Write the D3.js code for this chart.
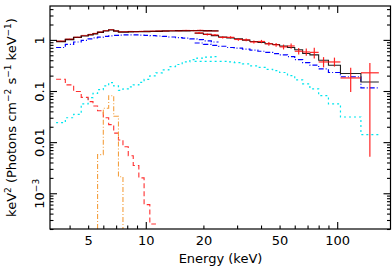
<!DOCTYPE html>
<html>
<head>
<meta charset="utf-8">
<script src="https://cdn.jsdelivr.net/npm/d3@7"></script>
<style>
  body { margin: 0; background: #fff; }
  svg { display: block; font-family: "DejaVu Sans", sans-serif; }
</style>
</head>
<body>
<div id="plot"></div>
<script>
	// spectrum: two data groups, total model + components (keV^2 units)

	const w = 392;
	const h = 267;
	const margin = {top: 6, right: 1, bottom: 38, left: 50};

	// low energy group (3.4 - 24 keV)
	const aEdges = [3.4, 3.8, 4.2, 4.6, 5.0, 5.3, 5.6, 6.0, 6.4, 6.8, 7.2, 7.6, 8.1, 8.6, 9.2, 9.8, 10.5, 11.3, 12.2, 13.2, 14.3, 15.5, 17, 18.5, 20, 22, 24];
	const aModel = [0.93, 1.02, 1.12, 1.20, 1.26, 1.32, 1.41, 1.50, 1.57, 1.49, 1.43, 1.43, 1.44, 1.45, 1.45, 1.46, 1.47, 1.48, 1.49, 1.50, 1.51, 1.51, 1.52, 1.52, 1.51, 1.50];
	const aCont = [0.71, 0.82, 0.91, 0.98, 1.05, 1.09, 1.13, 1.17, 1.20, 1.22, 1.24, 1.25, 1.25, 1.25, 1.24, 1.22, 1.21, 1.19, 1.17, 1.14, 1.11, 1.08, 1.05, 1.01, 0.96, 0.91];
	const aRefl = [0.024, 0.030, 0.035, 0.056, 0.074, 0.090, 0.106, 0.126, 0.146, 0.126, 0.103, 0.110, 0.12, 0.132, 0.148, 0.169, 0.198, 0.227, 0.26, 0.30, 0.33, 0.37, 0.41, 0.44, 0.46, 0.47];
	const aSoft = [0.17, 0.132, 0.098, 0.075, 0.062, 0.051, 0.041, 0.030, 0.022, 0.015, 0.011, 0.0081, 0.0054, 0.0035, 0.0020, 0.00060, 0.00025];
	const aData = [0.95, 1.04, 1.13, 1.22, 1.28, 1.34, 1.43, 1.52, 1.59, 1.50, 1.44, 1.45, 1.46, 1.44, 1.47, 1.47, 1.49, 1.50, 1.49, 1.52, 1.50, 1.53, 1.52, 1.54, 1.50, 1.49];
	const aErr = [0.03, 0.03, 0.03, 0.03, 0.03, 0.03, 0.03, 0.03, 0.03, 0.03, 0.03, 0.03, 0.03, 0.03, 0.03, 0.03, 0.04, 0.04, 0.04, 0.04, 0.05, 0.05, 0.05, 0.06, 0.06, 0.07];

	// iron line (gaussian)
	const feEdges = [5.6, 6.0, 6.4, 6.8, 7.2, 7.6];
	const feVals = [0.0057, 0.046, 0.081, 0.032, 0.0021];

	// high energy group (18 - 165 keV)
	const bEdges = [18, 20, 22, 24, 26.5, 29, 32, 35, 38.5, 42, 46, 50, 55, 60, 66, 72, 80, 90, 104, 133, 165];
	const bModel = [1.35, 1.28, 1.21, 1.14, 1.09, 1.05, 0.99, 0.93, 0.89, 0.84, 0.81, 0.76, 0.71, 0.64, 0.54, 0.51, 0.40, 0.32, 0.22, 0.15];
	const bCont = [0.87, 0.82, 0.78, 0.75, 0.71, 0.69, 0.66, 0.63, 0.60, 0.57, 0.54, 0.51, 0.47, 0.41, 0.36, 0.32, 0.27, 0.23, 0.19, 0.115];
	const bRefl = [0.38, 0.38, 0.38, 0.38, 0.37, 0.36, 0.34, 0.31, 0.29, 0.265, 0.25, 0.23, 0.20, 0.165, 0.138, 0.11, 0.081, 0.056, 0.031, 0.014];
	const bData = [1.37, 1.28, 1.25, 1.12, 1.12, 1.02, 1.0, 0.91, 0.93, 0.84, 0.80, 0.73, 0.76, 0.60, 0.58, 0.57, 0.37, 0.37, 0.18, 0.227];
	const bLo = [1.31, 1.22, 1.19, 1.06, 1.06, 0.96, 0.94, 0.85, 0.86, 0.77, 0.73, 0.65, 0.67, 0.52, 0.49, 0.43, 0.29, 0.30, 0.096, 0.0052];
	const bHi = [1.43, 1.34, 1.31, 1.18, 1.18, 1.08, 1.06, 0.97, 1.0, 0.91, 0.87, 0.81, 0.85, 0.69, 0.68, 0.70, 0.46, 0.45, 0.285, 0.355];

	// axes
	const xDomain = [3.16, 191];
	const yDomain = [2e-4, 4.6];
	const xMajor = [10, 100];
	const xLabels = [5, 10, 20, 50, 100];
	const yMajor = [0.001, 0.01, 0.1, 1];
	const yLabels = ["10", "0.01", "0.1", "1"];

	const xScale = d3.scaleLog()
		.domain(xDomain)
		.range([margin.left, w - margin.right]);

	const yScale = d3.scaleLog()
		.domain(yDomain)
		.range([h - margin.bottom, margin.top]);

	const svg = d3.select("div#plot")
		.append("svg")
		.attr("width", w)
		.attr("height", h);

	svg.append("clipPath")
		.attr("id", "clip")
		.append("rect")
		.attr("x", margin.left)
		.attr("y", margin.top)
		.attr("width", w - margin.left - margin.right)
		.attr("height", h - margin.top - margin.bottom);

	const stepLine = d3.line()
		.x(d => xScale(d[0]))
		.y(d => yScale(d[1]))
		.curve(d3.curveStepAfter);

	function stepPts(edges, vals) {
		const pts = vals.map((v, i) => [edges[i], v]);
		pts.push([edges[vals.length], vals[vals.length - 1]]);
		return pts;
	}

	const plot = svg.append("g").attr("clip-path", "url(#clip)");

	function drawStep(edges, vals, color, dash, width) {
		plot.append("path")
			.attr("d", stepLine(stepPts(edges, vals)))
			.attr("fill", "none")
			.attr("stroke", color)
			.attr("stroke-width", width)
			.attr("stroke-dasharray", dash);
	}

	// reflection (cyan dotted)
	drawStep(aEdges, aRefl, "#00e5ee", "2,3", 1.2);
	drawStep(bEdges, bRefl, "#00e5ee", "2,3", 1.2);

	// continuum (blue dash-dot)
	drawStep(aEdges, aCont, "#0000ff", "5,2,1,2", 1.2);
	drawStep(bEdges, bCont, "#0000ff", "5,2,1,2", 1.2);

	// soft component (red dashed)
	drawStep(aEdges.slice(0, aSoft.length + 1), aSoft, "#ff3030", "5,3", 1.1);

	// iron line (orange dash-dot), drops to the axis floor at both ends
	const fePts = [[feEdges[0], yDomain[0]]].concat(stepPts(feEdges, feVals));
	fePts.push([feEdges[feEdges.length - 1], yDomain[0]]);
	plot.append("path")
		.attr("d", stepLine(fePts))
		.attr("fill", "none")
		.attr("stroke", "#f4a040")
		.attr("stroke-width", 1.1)
		.attr("stroke-dasharray", "5,2,1,2");

	// data crosses
	function drawCrosses(edges, vals, lo, hi, color, width, opacity) {
		const g = plot.append("g")
			.attr("stroke", color)
			.attr("stroke-width", width)
			.attr("opacity", opacity);
		vals.forEach((v, i) => {
			const xc = Math.sqrt(edges[i] * edges[i + 1]);
			g.append("line")
				.attr("x1", xScale(edges[i])).attr("x2", xScale(edges[i + 1]))
				.attr("y1", yScale(v)).attr("y2", yScale(v));
			g.append("line")
				.attr("x1", xScale(xc)).attr("x2", xScale(xc))
				.attr("y1", yScale(lo[i])).attr("y2", yScale(hi[i]));
		});
	}

	// total models
	drawStep(aEdges, aModel, "#1a0000", null, 1.4);
	drawStep(bEdges, bModel, "#222", null, 1.1);

	drawCrosses(aEdges, aData, aData.map((v, i) => v - aErr[i]), aData.map((v, i) => v + aErr[i]), "#ff0000", 1.2, 0.5);
	drawCrosses(bEdges, bData, bLo, bHi, "#ff0000", 1.2, 0.85);

	// frame
	svg.append("rect")
		.attr("x", margin.left)
		.attr("y", margin.top)
		.attr("width", w - margin.left - margin.right - 0.5)
		.attr("height", h - margin.top - margin.bottom)
		.attr("fill", "none")
		.attr("stroke", "#000")
		.attr("stroke-width", 1.2);

	// ticks on all four sides, pointing inward
	const yBottom = h - margin.bottom;
	const xRight = w - margin.right - 0.5;
	const xMinor = xScale.ticks().filter(t => !xMajor.includes(t));
	const yMinor = yScale.ticks().filter(t => !yMajor.some(m => Math.abs(m - t) / m < 1e-6));

	function tickAxis(axisFn, scale, vals, size, transform) {
		const g = svg.append("g")
			.attr("transform", transform)
			.call(axisFn(scale).tickValues(vals).tickSizeInner(-size).tickSizeOuter(0).tickFormat(""));
		g.select(".domain").remove();
		g.selectAll("line").attr("stroke-width", 1.1);
	}

	tickAxis(d3.axisBottom, xScale, xMinor, 3.5, `translate(0, ${yBottom})`);
	tickAxis(d3.axisBottom, xScale, xMajor, 7, `translate(0, ${yBottom})`);
	tickAxis(d3.axisTop, xScale, xMinor, 3.5, `translate(0, ${margin.top})`);
	tickAxis(d3.axisTop, xScale, xMajor, 7, `translate(0, ${margin.top})`);
	tickAxis(d3.axisLeft, yScale, yMinor, 3.5, `translate(${margin.left}, 0)`);
	tickAxis(d3.axisLeft, yScale, yMajor, 7, `translate(${margin.left}, 0)`);
	tickAxis(d3.axisRight, yScale, yMinor, 3.5, `translate(${xRight}, 0)`);
	tickAxis(d3.axisRight, yScale, yMajor, 7, `translate(${xRight}, 0)`);

	// x tick labels
	const xLab = svg.append("g")
		.attr("transform", `translate(0, ${yBottom})`)
		.call(d3.axisBottom(xScale).tickValues(xLabels).tickSize(0).tickPadding(7).tickFormat(d3.format("d")));
	xLab.select(".domain").remove();
	xLab.selectAll("text").attr("font-size", 13).attr("font-family", "DejaVu Sans").attr("fill", "#000");

	// y tick labels, rotated
	const yLab = svg.append("g")
		.attr("transform", `translate(${margin.left}, 0)`)
		.call(d3.axisLeft(yScale).tickValues(yMajor).tickSize(0).tickFormat((d, i) => yLabels[i]));
	yLab.select(".domain").remove();
	yLab.selectAll("text")
		.attr("transform", "rotate(-90)")
		.attr("x", 0)
		.attr("y", -6)
		.attr("dy", 0)
		.attr("text-anchor", "middle")
		.attr("font-size", 13)
		.attr("font-family", "DejaVu Sans")
		.attr("fill", "#000")
		.filter(d => d === 0.001)
		.append("tspan")
		.attr("dy", -5)
		.attr("font-size", 9)
		.text("\u22123");

	// axis titles
	svg.append("text")
		.attr("x", (margin.left + w - margin.right) / 2)
		.attr("y", 263)
		.attr("text-anchor", "middle")
		.attr("font-size", 13)
		.text("Energy (keV)");

	const yTitle = svg.append("text")
		.attr("transform", `translate(16, ${(margin.top + yBottom) / 2}) rotate(-90)`)
		.attr("text-anchor", "middle")
		.attr("font-size", 13);

	const titleParts = [
		["keV", false], ["2", true], [" (Photons cm", false], ["\u22122", true],
		[" s", false], ["\u22121", true], [" keV", false], ["\u22121", true], [")", false]
	];
	titleParts.forEach(p => {
		yTitle.append("tspan")
			.attr("dy", p[1] ? -5 : 5)
			.attr("font-size", p[1] ? 9 : 13)
			.text(p[0]);
	});
	yTitle.select("tspan").attr("dy", 0);
</script>
</body>
</html>
